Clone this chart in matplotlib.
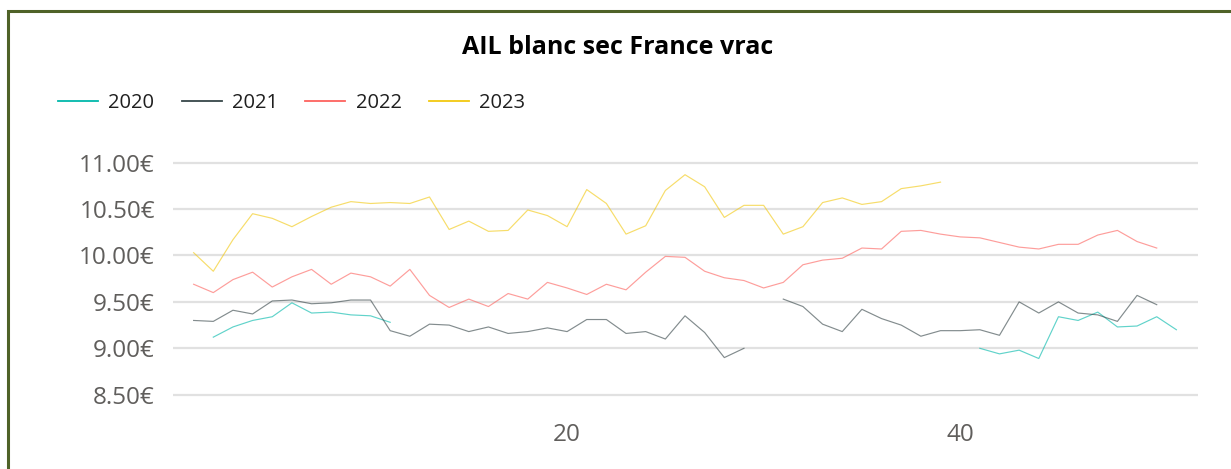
import numpy as np
import matplotlib.pyplot as plt
from matplotlib.lines import Line2D
from matplotlib.patches import Rectangle

plt.rcParams['font.family'] = ['Open Sans', 'DejaVu Sans']

nan = np.nan
weeks = np.arange(1, 53)

# prix hebdo (€), semaines 1..52, nan = pas de cotation
prix_2020 = [nan, 9.12, 9.23, 9.30, 9.34, 9.49, 9.38, 9.39, 9.36, 9.35,
             9.28] + [nan] * 29 + [9.00, 8.94, 8.98, 8.89, 9.34, 9.30, 9.39, 9.23,
                                    9.24, 9.34, 9.20, nan]
prix_2021 = [9.30, 9.29, 9.41, 9.37, 9.51, 9.52, 9.48, 9.49, 9.52, 9.52,
             9.19, 9.13, 9.26, 9.25, 9.18, 9.23, 9.16, 9.18, 9.22, 9.18,
             9.31, 9.31, 9.16, 9.18, 9.10, 9.35, 9.17, 8.90, 9.00, nan,
             9.53, 9.45, 9.26, 9.18, 9.42, 9.32, 9.25, 9.13, 9.19, 9.19,
             9.20, 9.14, 9.50, 9.38, 9.50, 9.38, 9.36, 9.29, 9.57, 9.47,
             nan, nan]
prix_2022 = [9.69, 9.60, 9.74, 9.82, 9.66, 9.77, 9.85, 9.69, 9.81, 9.77,
             9.67, 9.85, 9.57, 9.44, 9.53, 9.45, 9.59, 9.53, 9.71, 9.65,
             9.58, 9.69, 9.63, 9.82, 9.99, 9.98, 9.83, 9.76, 9.73, 9.65,
             9.71, 9.90, 9.95, 9.97, 10.08, 10.07, 10.26, 10.27, 10.23, 10.20,
             10.19, 10.14, 10.09, 10.07, 10.12, 10.12, 10.22, 10.27, 10.15, 10.08,
             nan, nan]
prix_2023 = [10.03, 9.83, 10.17, 10.45, 10.40, 10.31, 10.42, 10.52, 10.58, 10.56,
             10.57, 10.56, 10.63, 10.28, 10.37, 10.26, 10.27, 10.49, 10.43, 10.31,
             10.71, 10.56, 10.23, 10.32, 10.70, 10.87, 10.74, 10.41, 10.54, 10.54,
             10.23, 10.31, 10.57, 10.62, 10.55, 10.58, 10.72, 10.75, 10.79] + [nan] * 13

years = ['2020', '2021', '2022', '2023']
colors = ['#01B8AA', '#374649', '#FD625E', '#F2C80F']
yticks = [8.5, 9.0, 9.5, 10.0, 10.5, 11.0]

W, H = 1231, 469
fig = plt.figure(figsize=(W / 100, H / 100), dpi=100)

# axes placed in pixels: left 173, right 1198, top 158, bottom 404
ax = fig.add_axes([173 / W, 1 - 404 / H, 1025 / W, 246 / H])

for vals, c in zip([prix_2020, prix_2021, prix_2022, prix_2023], colors):
    ax.plot(weeks, vals, color=c, lw=0.85, alpha=0.62)

ax.set_xlim(-0.05, 52.1)
ax.set_ylim(8.4, 11.05)
ax.set_yticks(yticks)
ax.set_yticklabels([f'{v:.2f}€' for v in yticks])
ax.set_xticks([20, 40])
ax.tick_params(length=0, labelsize=17.5, labelcolor='#605E5C')
ax.tick_params(axis='y', pad=13)
ax.tick_params(axis='x', pad=14)
ax.grid(axis='y', color='#E1E1E1', lw=1.6)
ax.set_axisbelow(True)
for s in ax.spines.values():
    s.set_visible(False)

fig.text(618 / W, 1 - 47 / H, 'AIL blanc sec France vrac', ha='center', va='center',
         fontsize=18, fontweight='bold', color='black')

handles = [Line2D([], [], color=c, lw=1.3) for c in colors]
fig.legend(handles, years, loc='center left', bbox_to_anchor=(58 / W, 1 - 103 / H),
           ncol=4, frameon=False, fontsize=14.5, handlelength=2.0, handletextpad=0.5,
           columnspacing=1.35, borderpad=0, borderaxespad=0, labelcolor='#1F1F1F')

# cadre vert du visuel (bord haut et gauche seulement visibles)
fig.add_artist(Rectangle((8 / W, -0.1), 1.1, 1.1 - 11.5 / H, transform=fig.transFigure,
                         fill=False, edgecolor='#4F6228', lw=2.2))

fig.savefig('out.png', dpi=100)
